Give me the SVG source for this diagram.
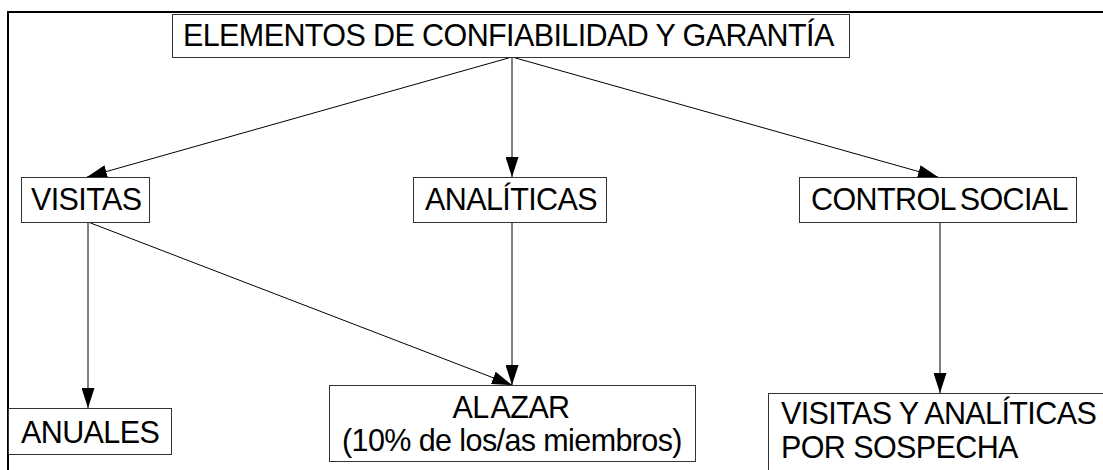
<svg xmlns="http://www.w3.org/2000/svg" width="1103" height="470" viewBox="0 0 1103 470">
<defs>
<style>
.box{fill:#fff;stroke:#333;stroke-width:1}
.t{font-family:"Liberation Sans",Arial,sans-serif;font-size:30.5px;letter-spacing:-0.6px;fill:#000}
.ns{word-spacing:-3px}
.c{stroke:#000;stroke-width:1;fill:none;marker-end:url(#ah)}
</style>
<marker id="ah" markerWidth="20" markerHeight="13" refX="20" refY="6.5" viewBox="0 0 20 13" orient="auto" markerUnits="userSpaceOnUse">
<path d="M0,0 L20,6.5 L0,13 Z" fill="#000"/>
</marker>
</defs>
<rect width="1103" height="470" fill="#fff"/>
<path d="M8,470 L8,12 L1103,12" fill="none" stroke="#000" stroke-width="2"/>
<g id="connectors">
<line class="c" x1="512" y1="57" x2="87" y2="177"/>
<line class="c" x1="512" y1="57" x2="512" y2="177"/>
<line class="c" x1="512" y1="57" x2="938" y2="177"/>
<line class="c" x1="88" y1="222" x2="88" y2="408"/>
<line class="c" x1="88" y1="222" x2="512" y2="385"/>
<line class="c" x1="512" y1="222" x2="512" y2="385"/>
<line class="c" x1="940" y1="222" x2="940" y2="393"/>
</g>
<g id="n-title"><rect class="box" x="172.5" y="14.5" width="677" height="43"/><text class="t" x="183" y="46">ELEMENTOS DE CONFIABILIDAD Y GARANTÍA</text></g>
<g id="n-visitas"><rect class="box" x="21.5" y="177.5" width="128" height="45"/><text class="t" x="31" y="210">VISITAS</text></g>
<g id="n-analiticas"><rect class="box" x="413.5" y="177.5" width="193" height="45"/><text class="t" x="425" y="210">ANALÍTICAS</text></g>
<g id="n-control"><rect class="box" x="799.5" y="177.5" width="277" height="45"/><text class="t ns" x="811" y="210">CONTROL SOCIAL</text></g>
<g id="n-anuales"><rect class="box" x="8.5" y="408.5" width="163" height="46"/><text class="t" x="21" y="443">ANUALES</text></g>
<g id="n-azar"><rect class="box" x="329.5" y="385.5" width="366" height="76"/><text class="t" text-anchor="middle"><tspan class="ns" x="511" y="418">AL AZAR</tspan><tspan x="512" y="451">(10% de los/as miembros)</tspan></text></g>
<g id="n-sospecha"><rect class="box" x="768.5" y="393.5" width="340" height="90"/><text class="t"><tspan x="781" y="424">VISITAS Y ANALÍTICAS</tspan><tspan x="781" y="458">POR SOSPECHA</tspan></text></g>
</svg>
